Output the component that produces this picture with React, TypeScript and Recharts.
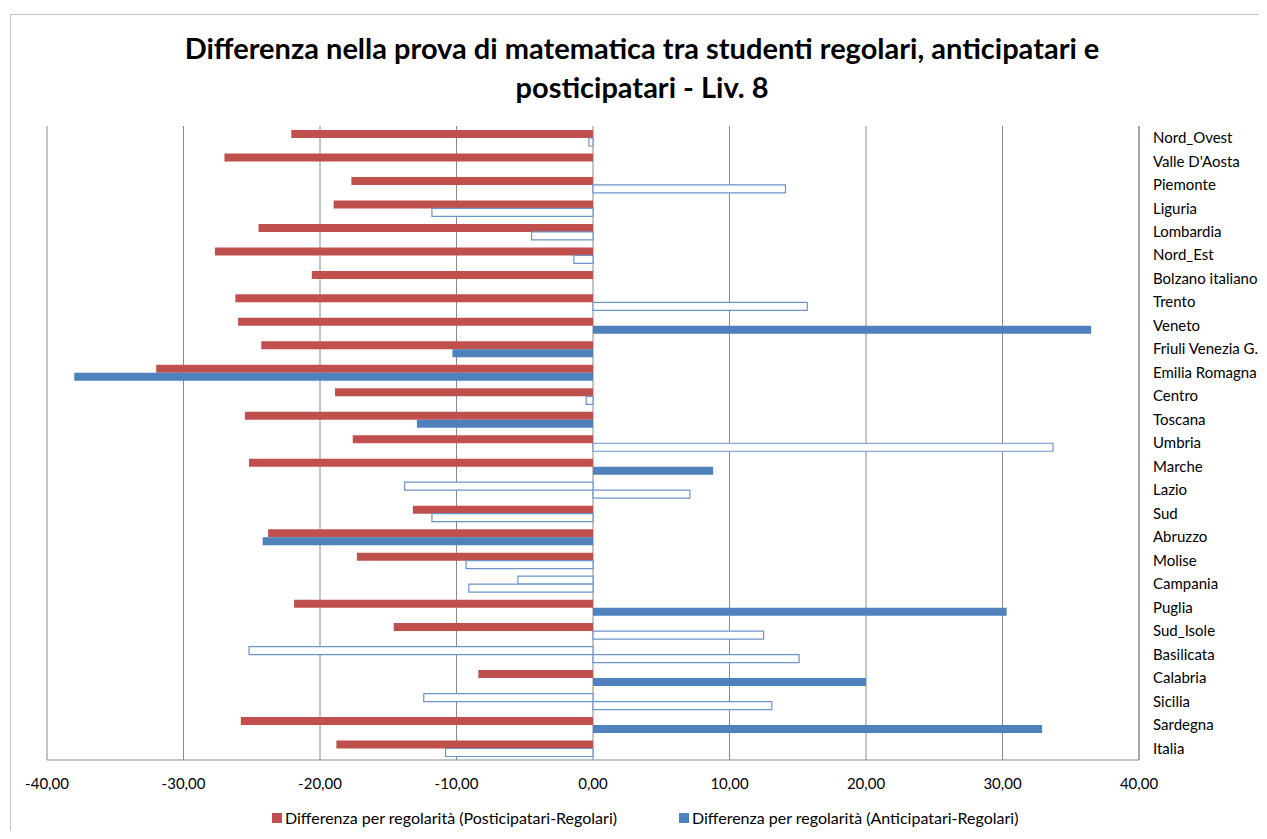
import { BarChart, Bar, XAxis, YAxis, CartesianGrid, Cell } from 'recharts'

const categories = [
  'Nord_Ovest', "Valle D'Aosta", 'Piemonte', 'Liguria', 'Lombardia', 'Nord_Est',
  'Bolzano italiano', 'Trento', 'Veneto', 'Friuli Venezia G.', 'Emilia Romagna',
  'Centro', 'Toscana', 'Umbria', 'Marche', 'Lazio', 'Sud', 'Abruzzo', 'Molise',
  'Campania', 'Puglia', 'Sud_Isole', 'Basilicata', 'Calabria', 'Sicilia', 'Sardegna', 'Italia',
]

// Posticipatari - Regolari
const posticipatari = [
  -22.1, -27.0, -17.7, -19.0, -24.5, -27.7, -20.6, -26.2, -26.0, -24.3, -32.0, -18.9, -25.5,
  -17.6, -25.2, -13.8, -13.2, -23.8, -17.3, -5.5, -21.9, -14.6, -25.2, -8.4, -12.4, -25.8, -18.8,
]
const posticipatariSig = [
  true, true, true, true, true, true, true, true, true, true, true, true, true,
  true, true, false, true, true, true, false, true, true, false, true, false, true, true,
]

// Anticipatari - Regolari
const anticipatari = [
  -0.3, null, 14.1, -11.8, -4.5, -1.4, null, 15.7, 36.5, -10.3, -38.0, -0.5, -12.9,
  33.7, 8.8, 7.1, -11.8, -24.2, -9.3, -9.1, 30.3, 12.5, 15.1, 20.0, 13.1, 32.9, -10.8,
]
const anticipatariSig = [
  false, false, false, false, false, false, false, false, true, true, true, false, true,
  false, true, false, false, true, false, false, true, false, false, true, false, true, false,
]

const xTicks = [-40, -30, -20, -10, 0, 10, 20, 30, 40]

const RED = '#C0504D'
const BLUE = '#4F81BD'
const HOLLOW_STROKE = '#6F93C8'
const FONT = 'Lato, "Liberation Sans", sans-serif'

const data = categories.map((name, i) => ({
  name,
  post: posticipatari[i],
  anti: anticipatari[i],
}))

const fmt = (v: number) => v.toFixed(2).replace('.', ',')

export default function App() {
  return (
    <div style={{ position: 'relative', width: 1259, height: 823, fontFamily: FONT }}>
      <div
        style={{
          position: 'absolute', left: 2, top: 6, width: 1257, height: 817,
          borderLeft: '1px solid #c4c4c4', borderTop: '1px solid #c4c4c4', boxSizing: 'border-box',
        }}
      />
      <div
        style={{
          position: 'absolute', left: 0, top: 20, width: 1268, textAlign: 'center',
          fontSize: 29, fontWeight: 700, lineHeight: '39px', color: '#000',
        }}
      >
        <div>Differenza nella prova di matematica tra studenti regolari, anticipatari e</div>
        <div>posticipatari - Liv. 8</div>
      </div>
      <div style={{ position: 'absolute', left: 0, top: 0 }}>
        <BarChart
          width={1259}
          height={823}
          data={data}
          layout="vertical"
          barSize={8}
          barGap={0}
          margin={{ top: 118, right: 0, bottom: 41, left: 39 }}
        >
          <CartesianGrid horizontal={false} stroke="#8a8a8a" />
          <XAxis
            type="number"
            domain={[-40, 40]}
            ticks={xTicks}
            tickFormatter={fmt}
            axisLine={{ stroke: '#8a8a8a' }}
            tickLine={false}
            tickSize={6}
            tickMargin={12}
            height={30}
            tick={{ fill: '#000', fontSize: 15, fontFamily: FONT }}
          />
          <YAxis
            type="category"
            dataKey="name"
            orientation="right"
            width={128}
            interval={0}
            axisLine={{ stroke: '#8a8a8a' }}
            tickLine={false}
            tickSize={6}
            tickMargin={8}
            tick={{ fill: '#000', fontSize: 15, fontFamily: FONT, textAnchor: 'start' }}
          />
          <Bar dataKey="post" fill={RED} isAnimationActive={false}>
            {data.map((_, i) =>
              posticipatariSig[i] ? (
                <Cell key={i} fill={RED} />
              ) : (
                <Cell key={i} fill="#ffffff" stroke={HOLLOW_STROKE} strokeWidth={1.2} />
              )
            )}
          </Bar>
          <Bar dataKey="anti" fill={BLUE} isAnimationActive={false}>
            {data.map((_, i) =>
              anticipatariSig[i] ? (
                <Cell key={i} fill={BLUE} />
              ) : (
                <Cell key={i} fill="#ffffff" stroke={HOLLOW_STROKE} strokeWidth={1.2} />
              )
            )}
          </Bar>
        </BarChart>
      </div>
      <div
        style={{
          position: 'absolute', left: 264, top: 800, display: 'flex',
          alignItems: 'center', fontSize: 16, color: '#000', whiteSpace: 'nowrap',
        }}
      >
        <span style={{ width: 10, height: 10, background: RED, marginRight: 3, display: 'inline-block' }} />
        Differenza per regolarità (Posticipatari-Regolari)
      </div>
      <div
        style={{
          position: 'absolute', left: 671, top: 800, display: 'flex',
          alignItems: 'center', fontSize: 16, color: '#000', whiteSpace: 'nowrap',
        }}
      >
        <span style={{ width: 10, height: 10, background: BLUE, marginRight: 3, display: 'inline-block' }} />
        Differenza per regolarità (Anticipatari-Regolari)
      </div>
    </div>
  )
}
